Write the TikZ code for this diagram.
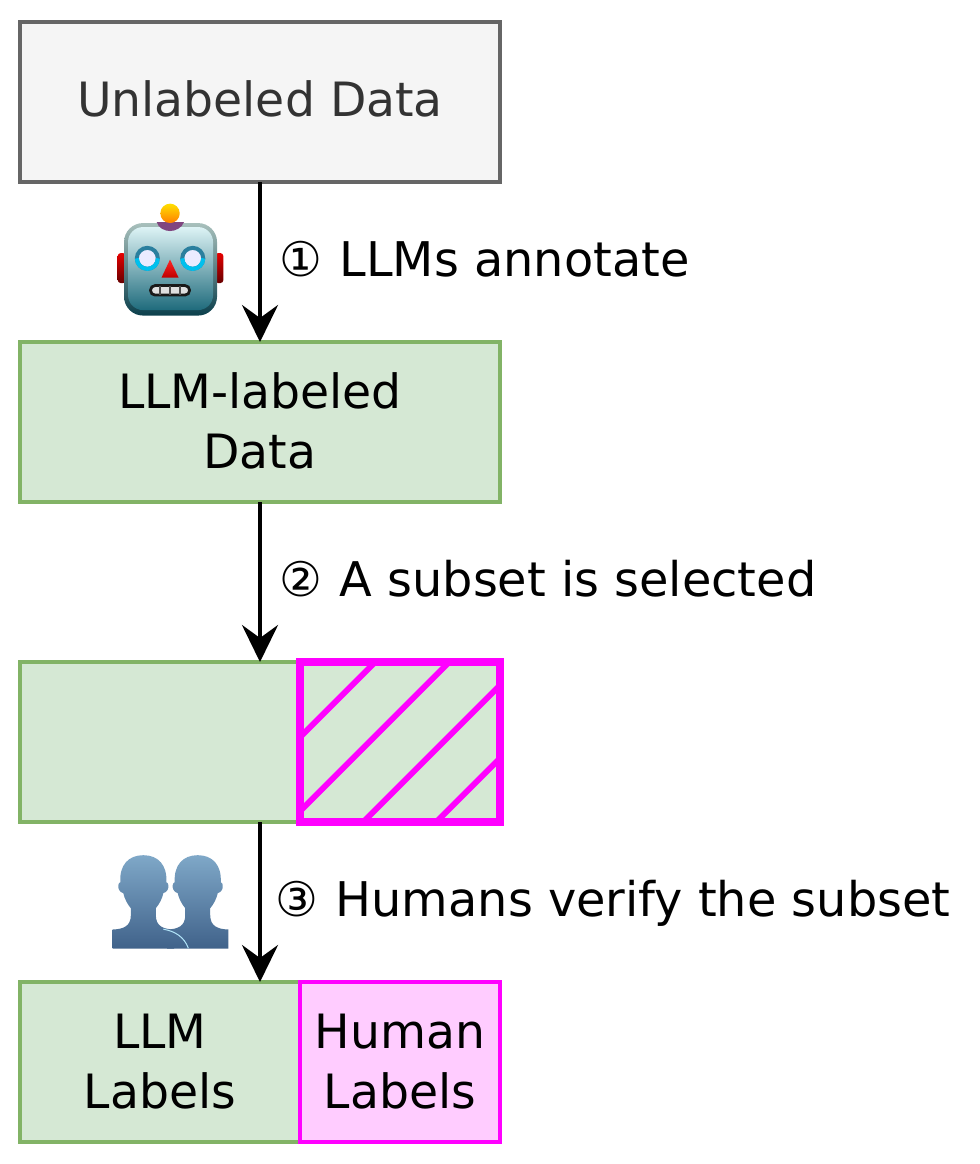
\documentclass[tikz,border=0pt]{standalone}
\usepackage{fontspec}
\setmainfont{DejaVu Sans}
\usetikzlibrary{arrows.meta,positioning}
\definecolor{greyfill}{HTML}{F5F5F5}
\definecolor{greyline}{HTML}{666666}
\definecolor{greyfont}{HTML}{333333}
\definecolor{greenfill}{HTML}{D5E8D4}
\definecolor{greenline}{HTML}{82B366}
\definecolor{humanfill}{HTML}{FFCCFF}
\definecolor{pinkline}{HTML}{FF00FF}
\definecolor{headtop}{HTML}{DDF3F5}
\definecolor{headmid}{HTML}{8FB1B6}
\definecolor{headlow}{HTML}{1F6B7C}
\definecolor{rimtop}{HTML}{A8C0BC}
\definecolor{rimlow}{HTML}{0B3F4C}
\definecolor{persontop}{HTML}{7FA8C8}
\definecolor{personlow}{HTML}{40628A}
\definecolor{eyering}{HTML}{2A7F9E}
\definecolor{eyeglow}{HTML}{00C0EE}
\tikzstyle{databox}=[rectangle,draw=greenline,fill=greenfill,line width=0.08cm,outer sep=0pt,inner sep=0pt,minimum width=9.6cm,minimum height=3.2cm,align=center,font=\fontsize{26.9pt}{34pt}\selectfont]
\tikzstyle{subbox}=[rectangle,draw=pinkline,outer sep=0pt,inner sep=0pt,minimum width=4cm,minimum height=3.2cm,align=center,font=\fontsize{26.9pt}{34pt}\selectfont]
\tikzstyle{steplabel}=[right,inner sep=0pt,outer sep=0pt,text height=20pt,text depth=8pt]
\tikzstyle{flow}=[-{Stealth[length=0.74cm,width=0.72cm,inset=0.26cm]},line width=0.08cm,black]
\tikzstyle{ear}=[rounded corners=0.06cm,top color=red!90!black,bottom color=red!40!black]
\tikzstyle{person}=[top color=persontop,bottom color=personlow]
\newcommand{\personpath}{(-30.7,93.3) -- (-30.7,74.3) .. controls (-20,74) and (-12.5,71) .. (-12.5,60) -- (-12.5,53) .. controls (-16,49) and (-19,43) .. (-20,38) .. controls (-24,37) and (-25.5,33) .. (-25,30) .. controls (-25,29) and (-24,27) .. (-23,27) .. controls (-24,10) and (-15,0) .. (0,0) .. controls (15,0) and (24,10) .. (23,27) .. controls (24,27) and (25,29) .. (25,30) .. controls (25.5,33) and (24,37) .. (20,38) .. controls (19,43) and (16,49) .. (12.5,53) -- (12.5,60) .. controls (12.5,71) and (20,74) .. (30.7,74.3) -- (30.7,93.3) -- cycle}
\begin{document}
\begin{tikzpicture}
[font=\fontsize{27.2pt}{34pt}\selectfont, node distance=6.4cm]
 \useasboundingbox (0,0) rectangle (19.6,-23.28);
 \node[databox,draw=greyline,fill=greyfill,text=greyfont,text depth=4pt] (unlabeled) at (5.2,-2.04) {Unlabeled Data};
 \node[databox,text depth=2pt] (annotated) [below of=unlabeled] {LLM-labeled\\Data};
 \node[databox] (selected) [below of=annotated] {};
 \node[databox] (verified) [below of=selected] {};
 \node[subbox,line width=0.16cm] (subset) at (8,-14.84) {};
 \node[subbox,line width=0.08cm,fill=humanfill,text depth=1pt] (human) at (8,-21.24) {Human\\Labels};
 \node[align=center,inner sep=0pt,text depth=1pt,font=\fontsize{26.9pt}{34pt}\selectfont] (llm) at (3.2,-21.24) {LLM\\Labels};
 \node[steplabel] (step1) at (5.58,-5.31) {①\hspace{1.5pt} LLMs annotate};
 \node[steplabel] (step2) at (5.58,-11.71) {②\hspace{1.5pt} A subset is selected};
 \node[steplabel] (step3) at (5.5,-18.11) {③\hspace{1.5pt} Humans verify the subset};
 \path[]
   (unlabeled) edge[flow] (annotated)
   (annotated) edge[flow] (selected)
   (selected) edge[flow] (verified);
 \begin{scope}[x=0.02cm,y=-0.02cm]
 % hatching of the subset
 \draw[pinkline,line width=0.115cm]
   (300,737) -- (375,662) (300,811) -- (449,662)
   (500,685) -- (363,822) (500,758) -- (436,822);
 % robot
 \shade[ear] (117.7,253) rectangle (126,283);
 \shade[ear] (215,253) rectangle (223.3,283);
 \shade[rounded corners=0.38cm,top color=rimtop,bottom color=rimlow] (124,223) rectangle (217,315.5);
 \shade[rounded corners=0.3cm,top color=headtop,middle color=headmid,bottom color=headlow] (128,227) rectangle (213,310);
 \fill[white!92!blue] (147.3,258.3) circle (10);
 \fill[white!92!blue] (192.7,258.3) circle (10);
 \draw[eyering,line width=0.08cm] (147.3,258.3) circle (10.5);
 \draw[eyering,line width=0.08cm] (192.7,258.3) circle (10.5);
 \draw[eyeglow,line width=0.08cm] (136.8,258.3) arc (180:0:10.5);
 \draw[eyeglow,line width=0.08cm] (182.2,258.3) arc (180:0:10.5);
 \shade[top color=red!85!white,bottom color=red!75!black] (170,259.5) -- (178.5,277.5) -- (161.5,277.5) -- cycle;
 \draw[black!90,fill=white!75!gray,rounded corners=0.09cm,line width=0.055cm] (150.5,285.5) rectangle (189.5,295);
 \draw[black!70,line width=0.03cm] (160,285.5) -- (160,295) (170,285.5) -- (170,295) (180,285.5) -- (180,295);
 \fill[violet!45!gray] (156.7,222) .. controls (162,222) and (178,222) .. (184,222) .. controls (182,228) and (175,231) .. (170,231) .. controls (165,231) and (158,228) .. (156.7,222) -- cycle;
 \shade[top color=yellow!75!orange,bottom color=orange] (170,213.3) circle (9.7);
 % two humans
 \begin{scope}[shift={(197.7,855)}]
 \shade[person] \personpath;
 \end{scope}
 \begin{scope}[shift={(143.3,855)}]
 \shade[person] \personpath;
 \draw[cyan!30!white,line width=0.02cm] (20,74) .. controls (32,76) and (41,82) .. (45,93);
 \end{scope}
 \end{scope}
\end{tikzpicture}
\end{document}
